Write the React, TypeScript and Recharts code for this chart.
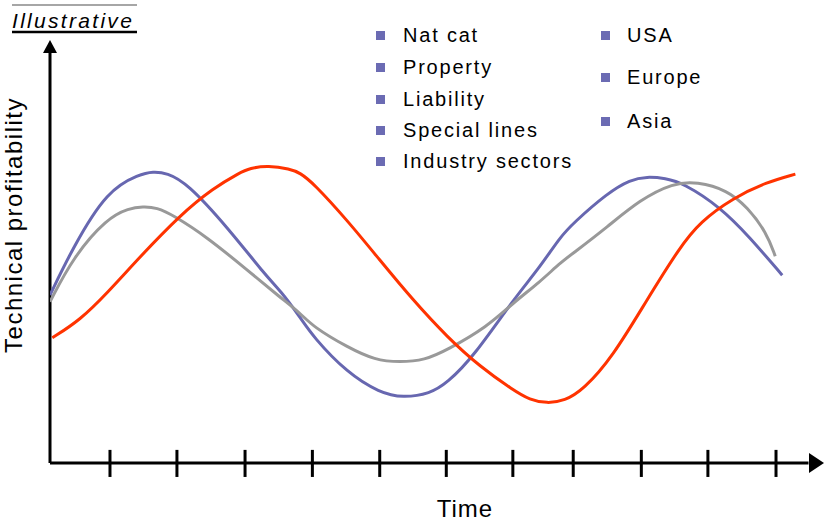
import React from 'react';
import { LineChart, Line, XAxis, YAxis, ReferenceLine, ReferenceDot } from 'recharts';

// Time axis: 0..100 (arbitrary units), profitability: 0..100 (arbitrary units)
const blueTime = [0, 3.0, 7.4, 11.6, 13.3, 15.1, 17.7, 22.9, 28.0, 29.7, 32.3, 34.0, 38.4, 42.6, 45.6, 49.1, 51.3, 54.7, 59.8, 63.3, 65.9, 67.6, 72.0, 75.0, 77.1, 79.5, 81.8, 86.6, 90.4, 94.6];
const blueValue = [39.7, 51.1, 64.5, 68.3, 68.9, 68.6, 66.2, 55.8, 44.0, 40.9, 34.5, 29.8, 21.3, 16.6, 15.4, 16.4, 18.9, 25.1, 38.5, 46.3, 53.4, 56.7, 63.8, 67.0, 67.7, 67.3, 66.2, 60.5, 53.4, 44.4];

const grayTime = [0, 3.0, 7.4, 10.2, 12.0, 13.8, 15.9, 20.3, 25.5, 29.7, 32.3, 34.0, 38.4, 42.0, 45.2, 48.4, 51.3, 56.5, 59.8, 63.3, 65.9, 67.6, 72.0, 76.2, 80.5, 83.6, 87.5, 90.1, 92.6, 93.7];
const grayValue = [38.1, 48.7, 57.9, 60.2, 60.6, 60.4, 58.6, 53.4, 45.6, 39.2, 35.5, 32.2, 27.4, 24.3, 23.8, 24.3, 26.7, 32.2, 37.8, 42.8, 47.3, 49.6, 55.8, 62.2, 66.2, 66.5, 64.5, 60.5, 54.4, 48.9];

const redTime = [0.3, 3.9, 7.4, 11.6, 16.8, 21.1, 24.5, 25.8, 28.2, 31.0, 32.3, 34.0, 38.4, 42.6, 46.9, 51.3, 55.6, 59.8, 62.0, 64.2, 66.5, 68.9, 72.7, 77.1, 81.4, 84.0, 88.2, 92.6, 96.3];
const redValue = [29.6, 33.8, 40.2, 48.7, 58.6, 65.0, 68.6, 69.7, 70.3, 69.5, 68.6, 66.2, 57.4, 48.0, 38.5, 29.8, 22.7, 17.3, 14.9, 14.1, 14.7, 17.3, 25.1, 38.5, 51.1, 57.0, 62.6, 66.4, 68.3];

const tickTimes = [7.75, 16.4, 25.2, 33.9, 42.6, 51.2, 59.8, 67.6, 76.4, 85.0, 93.8];

const legendLeft = ['Nat cat', 'Property', 'Liability', 'Special lines', 'Industry sectors'];
const legendRight = ['USA', 'Europe', 'Asia'];
const titleText = 'Illustrative';
const xLabel = 'Time';
const yLabel = 'Technical profitability';

const toRows = (ts: number[], vs: number[]) => ts.map((t, i) => ({ t, v: vs[i] }));
const blueData = toRows(blueTime, blueValue);
const grayData = toRows(grayTime, grayValue);
const redData = toRows(redTime, redValue);

const FONT = '"Liberation Sans", Arial, sans-serif';
const SQ = '#6b6bb3';

const leftRowsY = [35, 67, 99, 130, 161];
const rightRowsY = [35, 77, 121];

export default function App() {
  return (
    <div style={{ position: 'absolute', left: 0, top: 0, width: 824, height: 522, background: '#fff' }}>
      <LineChart width={824} height={522} margin={{ top: 40, right: 0, left: 50, bottom: 59 }}>
        <XAxis type="number" dataKey="t" domain={[0, 100]} allowDataOverflow height={0} tick={false} tickLine={false} axisLine={false} />
        <YAxis type="number" dataKey="v" domain={[0, 100]} allowDataOverflow width={0} tick={false} tickLine={false} axisLine={false} />
        <ReferenceLine segment={[{ x: 0, y: 0 }, { x: 98, y: 0 }]} stroke="#000" strokeWidth={3} ifOverflow="visible" />
        <ReferenceLine segment={[{ x: 0, y: 0 }, { x: 0, y: 98 }]} stroke="#000" strokeWidth={3} ifOverflow="visible" />
        {tickTimes.map((t) => (
          <ReferenceLine key={t} segment={[{ x: t, y: -3.3 }, { x: t, y: 3.1 }]} stroke="#000" strokeWidth={3} ifOverflow="visible" />
        ))}
        <ReferenceDot x={100} y={0} ifOverflow="visible"
          shape={(p: any) => <polygon points={`${p.cx},${p.cy} ${p.cx - 15},${p.cy - 10} ${p.cx - 15},${p.cy + 10}`} fill="#000" />} />
        <ReferenceDot x={0} y={100} ifOverflow="visible"
          shape={(p: any) => <polygon points={`${p.cx},${p.cy} ${p.cx - 7},${p.cy + 13} ${p.cx + 7},${p.cy + 13}`} fill="#000" />} />
        <Line data={blueData} dataKey="v" name="Series A" type="basis" stroke="#6767b0" strokeWidth={3} dot={false} isAnimationActive={false} />
        <Line data={grayData} dataKey="v" name="Series B" type="basis" stroke="#999999" strokeWidth={3} dot={false} isAnimationActive={false} />
        <Line data={redData} dataKey="v" name="Series C" type="basis" stroke="#ff3300" strokeWidth={3} dot={false} isAnimationActive={false} />
      </LineChart>
      <svg width={824} height={522} style={{ position: 'absolute', left: 0, top: 0, pointerEvents: 'none' }}>
        <line x1={12} x2={137} y1={5} y2={5} stroke="#888" strokeWidth={1.5} />
        <text x={12} y={28} fontFamily={FONT} fontSize={21} fontStyle="italic" letterSpacing={2.3} fill="#000">{titleText}</text>
        <line x1={12} x2={137} y1={32} y2={32} stroke="#000" strokeWidth={2.5} />
        {legendLeft.map((s, i) => (
          <g key={s}>
            <rect x={376} y={leftRowsY[i] - 4} width={9} height={9} fill={SQ} />
            <text x={403} y={leftRowsY[i] + 7} fontFamily={FONT} fontSize={20} letterSpacing={1.8} fill="#000">{s}</text>
          </g>
        ))}
        {legendRight.map((s, i) => (
          <g key={s}>
            <rect x={601} y={rightRowsY[i] - 4} width={9} height={9} fill={SQ} />
            <text x={627} y={rightRowsY[i] + 7} fontFamily={FONT} fontSize={20} letterSpacing={1.8} fill="#000">{s}</text>
          </g>
        ))}
        <text x={465} y={517} textAnchor="middle" fontFamily={FONT} fontSize={24} letterSpacing={1} fill="#000">{xLabel}</text>
        <text transform="translate(22,225) rotate(-90)" textAnchor="middle" fontFamily={FONT} fontSize={24} letterSpacing={1.5} fill="#000">{yLabel}</text>
      </svg>
    </div>
  );
}
